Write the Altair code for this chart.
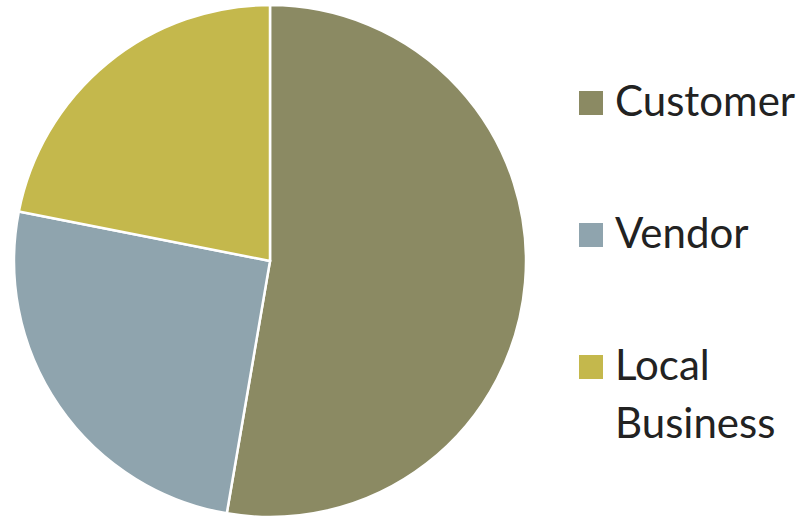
import altair as alt
import pandas as pd

categories = ["Customer", "Vendor", "Local Business"]
shares = [52.7, 25.4, 21.9]
colors = ["#8b8a63", "#8fa4ae", "#c4b84c"]

df = pd.DataFrame({"category": categories, "share": shares, "order": [0, 1, 2]})

chart = alt.Chart(df).mark_arc(stroke="white", strokeWidth=2.5).encode(
    theta=alt.Theta("share:Q", stack=True),
    order=alt.Order("order:Q"),
    x=alt.value(270),
    y=alt.value(261),
    radius=alt.value(256),
    color=alt.Color(
        "category:N",
        sort=categories,
        scale=alt.Scale(domain=categories, range=colors),
        legend=alt.Legend(
            title=None,
            orient="none",
            legendX=570,
            legendY=82,
            symbolType="square",
            symbolSize=576,
            symbolStrokeWidth=0,
            labelFont="Lato",
            labelFontSize=42,
            labelColor="#222222",
            labelLimit=300,
            labelOffset=3,
            rowPadding=90,
            labelExpr="datum.label == 'Local Business' ? ['Local', 'Business'] : datum.label",
        ),
    ),
).properties(
    width=810, height=519, padding=0, autosize=alt.AutoSizeParams(type="none")
).configure(
    view=alt.ViewConfig(stroke=None),
    style={"guide-label": {"lineHeight": 58}},
)

chart.save("out.html", embed_options={"renderer": "svg", "actions": False})
